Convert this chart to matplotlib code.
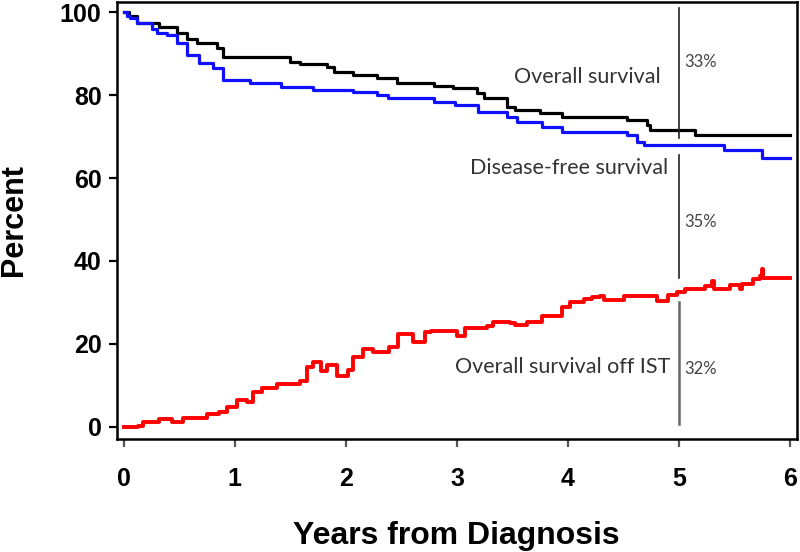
import matplotlib
matplotlib.use("Agg")
import matplotlib.pyplot as plt

# Kaplan-Meier style curves (years, percent)
os_years = [0, 0.05, 0.12, 0.32, 0.48, 0.57, 0.66, 0.84, 0.89, 1.5, 1.59, 1.83, 1.89, 2.06, 2.28,
            2.46, 2.79, 2.96, 3.18, 3.24, 3.45, 3.52, 3.75, 3.95, 4.53, 4.71, 4.74, 5.14, 6.0]
os_pct = [100, 99, 97.4, 96.4, 95, 93.5, 92.5, 91.3, 89.2, 88, 87.5, 86.8, 85.6, 84.9, 84.1,
          82.9, 82.3, 81.7, 80.5, 79.3, 77.2, 76.4, 75.7, 74.8, 74, 72.8, 71.6, 70.4, 70.4]

dfs_years = [0, 0.03, 0.06, 0.12, 0.25, 0.3, 0.39, 0.48, 0.57, 0.68, 0.8, 0.89, 1.14, 1.42, 1.7,
             2.06, 2.28, 2.38, 2.79, 2.98, 3.19, 3.45, 3.54, 3.77, 3.95, 4.53, 4.62, 4.68,
             5.4, 5.75, 6.0]
dfs_pct = [100, 99, 98.5, 97.3, 96, 95, 94.5, 92.5, 89.7, 87.7, 86.5, 83.6, 82.8, 82, 81.3,
           80.8, 80, 79.3, 78.4, 77.6, 76, 74.8, 73.6, 72.4, 71, 70.4, 68.8, 68,
           66.8, 64.9, 64.9]

ist_years = [0, 0.13, 0.17, 0.32, 0.43, 0.53, 0.75, 0.86, 0.93, 1.02, 1.11, 1.16, 1.24, 1.38,
             1.59, 1.65, 1.70, 1.78, 1.83, 1.92, 2.02, 2.06, 2.15, 2.24, 2.39, 2.47, 2.6,
             2.71, 2.77, 3.0, 3.07, 3.27, 3.32, 3.48, 3.52, 3.63, 3.77, 3.95, 4.02, 4.14,
             4.22, 4.29, 4.32, 4.5, 4.8, 4.9, 4.98, 5.05, 5.23, 5.3, 5.31, 5.46, 5.55, 5.57,
             5.67, 5.73, 5.75, 5.76, 6.0]
ist_pct = [0, 0.3, 1.2, 1.9, 1.2, 2.1, 3.1, 3.6, 4.8, 6.5, 6.0, 8.4, 9.4, 10.3,
           11.1, 14.4, 15.6, 13.5, 14.8, 12.3, 13.7, 16.8, 18.8, 18.0, 19.2, 22.4, 20.5,
           22.8, 23.1, 21.9, 23.8, 24.3, 25.2, 25.0, 24.5, 25.2, 26.7, 28.8, 30.0, 30.8,
           31.2, 31.5, 30.5, 31.5, 30.3, 31.7, 32.4, 33.2, 33.9, 35.1, 33.2, 34.1, 33.2, 34.4,
           35.6, 36.3, 38.0, 35.8, 35.8]

# annotations
labels = ["Overall survival", "Disease-free survival", "Overall survival off IST"]
label_x = [4.83, 4.9, 4.92]
label_y = [84.4, 62.5, 14.4]
pct_labels = ["33%", "35%", "32%"]
pct_y = [88, 49.3, 13.9]
seg_bottom = [69.7, 36.0, 0.7]
seg_top = [101, 65.6, 30.0]

bold_font = ['Liberation Sans', 'DejaVu Sans']
note_font = ['Lato', 'DejaVu Sans']

fig = plt.figure(figsize=(8, 5.52), dpi=100)
ax = fig.add_axes([0.146, 0.205, 0.85, 0.791])

ax.plot(os_years, os_pct, drawstyle='steps-post', color='black', lw=2.3)
ax.plot(dfs_years, dfs_pct, drawstyle='steps-post', color='#1010ff', lw=2.3)
ax.plot(ist_years, ist_pct, drawstyle='steps-post', color='#ff0000', lw=2.8)

# vertical markers at 5 years
seg_colors = ['#222222', '#222222', '#666666']
seg_widths = [1.2, 1.2, 1.8]
for lo, hi, c, w in zip(seg_bottom, seg_top, seg_colors, seg_widths):
    ax.plot([5, 5], [lo, hi], color=c, lw=w)

for txt, x, y in zip(labels, label_x, label_y):
    ax.text(x, y, txt, ha='right', va='center', fontsize=15.5,
            color='#333333', family=note_font)
for txt, y in zip(pct_labels, pct_y):
    ax.text(5.05, y, txt, ha='left', va='center', fontsize=12,
            color='#444444', family=note_font)

ax.set_xlim(-0.063, 6.06)
ax.set_ylim(-2.9, 102.4)
ax.set_xticks(range(0, 7))
ax.set_yticks(range(0, 101, 20))

for s in ax.spines.values():
    s.set_linewidth(1.8)
ax.tick_params(direction='out', length=6, width=1.6, labelsize=18)
ax.tick_params(axis='x', pad=14, color='#555555')
ax.tick_params(axis='y', pad=5)
for lab in ax.get_xticklabels() + ax.get_yticklabels():
    lab.set_family(bold_font)
    lab.set_fontweight('bold')

ax.set_xlabel("Years from Diagnosis", fontsize=23, fontweight='bold',
              family=bold_font, labelpad=22)
ax.set_ylabel("Percent", fontsize=22, fontweight='bold', family=bold_font, labelpad=22)

fig.savefig("out.png", dpi=100)
